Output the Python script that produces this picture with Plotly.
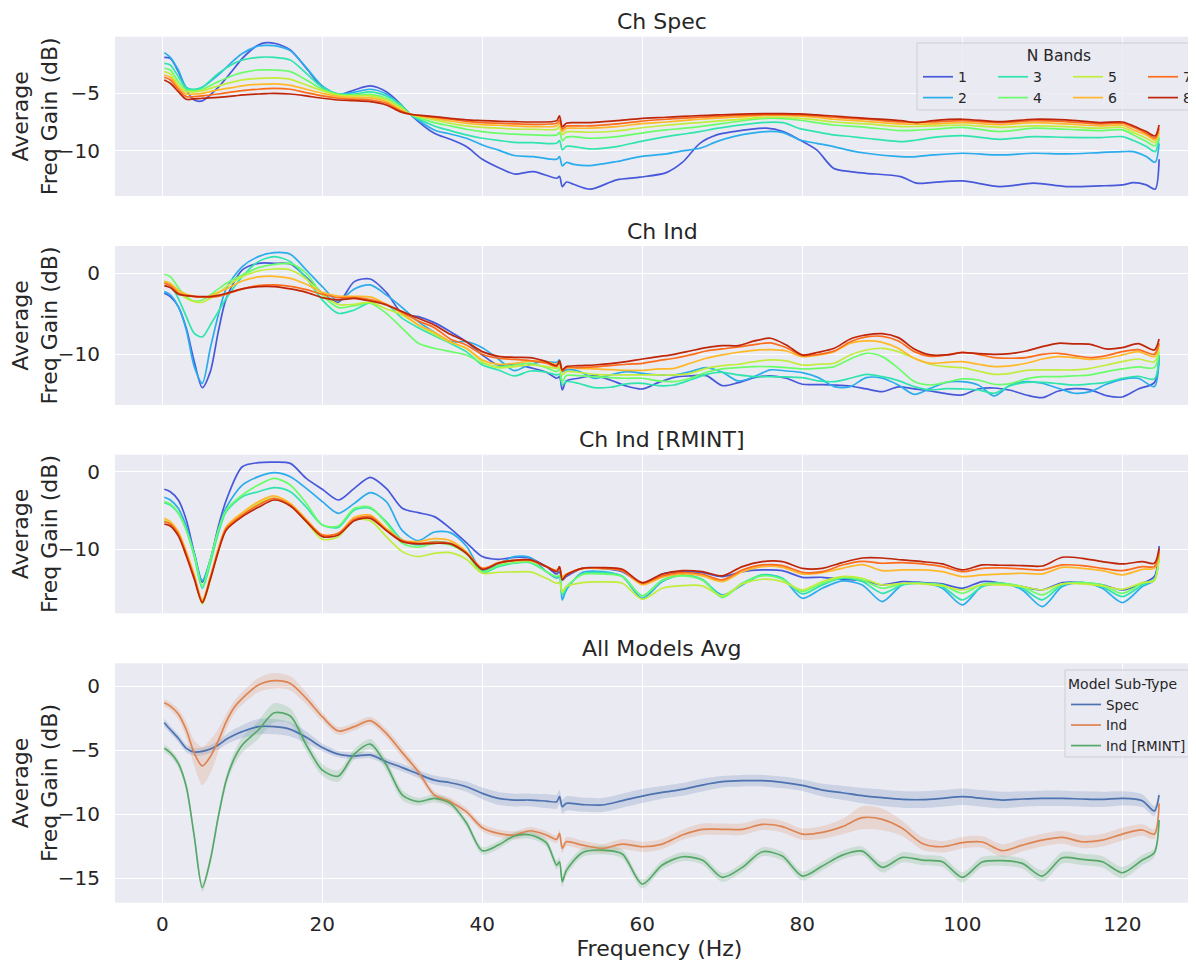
import plotly.graph_objects as go
from plotly.subplots import make_subplots

# ------------------------------------------------------------------
# Data
# ------------------------------------------------------------------
BAND_NAMES = ["1", "2", "3", "4", "5", "6", "7", "8"]
SUBTYPE_NAMES = ["Spec", "Ind", "Ind [RMINT]"]
PANEL_TITLES = ["Ch Spec", "Ch Ind", "Ch Ind [RMINT]", "All Models Avg"]
X_TICKS = [0, 20, 40, 60, 80, 100, 120]

# ---- Panel 1: Ch Spec ----
SPEC_FREQ = [0.25, 1, 2, 3, 4, 5, 7, 9, 10, 12, 13, 14, 16, 18, 20, 22, 24, 26, 28, 29.7,
             31, 34, 36, 38, 40, 42.2, 44, 46.4, 49.3, 49.65, 50.0, 50.5, 51.4, 53.5, 56.8, 59.7,
             63, 65, 67.2, 69.3, 71.4, 75.5, 77.6, 79.7, 81.8, 83.9, 86, 88, 92.3, 94.3, 96.4,
             100, 104.7, 108.9, 113, 117.2, 120, 121.4, 123, 124.1, 124.6]
SPEC_N1 = [-1.88, -1.97, -3.12, -4.71, -5.58, -5.66, -4.48, -2.83, -1.97, -0.81,
           -0.61, -0.66, -1.24, -2.83, -4.48, -5.14, -4.71, -4.36, -4.86, -5.87,
           -6.82, -8.47, -8.99, -9.62, -10.72, -11.50, -12.00, -11.79, -12.37, -12.20,
           -13.10, -12.70, -12.89, -13.32, -12.51, -12.28, -11.88, -11.00, -9.34, -8.61,
           -8.32, -8.03, -8.32, -9.05, -9.91, -11.50, -11.79, -11.94, -12.23, -12.80,
           -12.72, -12.60, -13.09, -12.80, -13.09, -13.03, -12.95, -12.75, -12.95, -13.32,
           -10.72]
SPEC_N2 = [-1.47, -1.88, -2.98, -4.48, -4.71, -4.48, -3.41, -2.11, -1.55, -0.90,
           -0.84, -0.87, -1.30, -2.77, -4.36, -5.06, -4.90, -4.65, -5.06, -6.01,
           -6.82, -8.18, -8.53, -8.90, -9.48, -9.97, -10.40, -10.49, -10.72, -10.50,
           -11.30, -11.00, -11.16, -11.27, -10.92, -10.49, -10.26, -10.00, -9.77, -9.19,
           -8.76, -8.32, -8.41, -9.05, -9.34, -9.62, -9.97, -10.20, -10.49, -10.49,
           -10.35, -10.20, -10.35, -10.20, -10.26, -10.14, -10.06, -10.06, -10.49, -10.98,
           -9.34]
SPEC_N3 = [-2.40, -2.54, -3.55, -4.57, -4.65, -4.48, -3.27, -2.40, -2.11, -1.88,
           -1.85, -1.88, -2.11, -3.27, -4.48, -5.06, -5.06, -4.88, -5.23, -5.92,
           -6.82, -7.83, -8.24, -8.61, -8.90, -9.10, -9.25, -9.28, -9.34, -9.10,
           -9.90, -9.60, -9.62, -9.83, -9.62, -9.19, -8.76, -8.55, -8.32, -8.05,
           -7.83, -7.52, -7.55, -8.06, -8.35, -8.61, -8.75, -8.90, -9.19, -9.05,
           -8.82, -8.67, -8.99, -8.76, -8.82, -8.84, -8.76, -9.10, -9.62, -10.06,
           -8.90]
SPEC_N4 = [-2.83, -2.98, -3.99, -4.71, -4.77, -4.65, -3.99, -3.41, -3.21, -2.98,
           -2.97, -2.98, -3.12, -3.84, -4.65, -5.09, -5.14, -5.09, -5.43, -6.10,
           -6.82, -7.54, -7.83, -8.12, -8.32, -8.47, -8.55, -8.61, -8.61, -8.40,
           -9.10, -8.80, -8.76, -8.90, -8.76, -8.47, -8.18, -8.05, -7.89, -7.70,
           -7.49, -7.17, -7.20, -7.34, -7.55, -7.75, -7.85, -7.95, -8.24, -8.20,
           -8.12, -7.95, -8.32, -8.03, -8.12, -8.24, -8.18, -8.61, -9.19, -9.57,
           -8.76]
SPEC_N5 = [-3.12, -3.32, -4.28, -4.86, -4.88, -4.77, -4.36, -3.99, -3.84, -3.70,
           -3.68, -3.67, -3.79, -4.28, -4.77, -5.17, -5.23, -5.23, -5.58, -6.21,
           -6.82, -7.31, -7.60, -7.83, -7.95, -8.03, -8.10, -8.12, -8.12, -7.90,
           -8.60, -8.35, -8.32, -8.38, -8.27, -8.01, -7.77, -7.65, -7.54, -7.42,
           -7.31, -7.08, -7.08, -7.17, -7.30, -7.49, -7.58, -7.66, -7.89, -7.87,
           -7.83, -7.75, -7.95, -7.83, -7.89, -8.03, -7.95, -8.41, -8.90, -9.28,
           -8.47]
SPEC_N6 = [-3.41, -3.61, -4.48, -5.06, -5.06, -5.00, -4.71, -4.48, -4.36, -4.22,
           -4.20, -4.19, -4.31, -4.65, -5.00, -5.29, -5.38, -5.40, -5.72, -6.39,
           -6.82, -7.17, -7.40, -7.60, -7.72, -7.77, -7.83, -7.89, -7.83, -7.60,
           -8.30, -8.05, -8.03, -8.03, -7.89, -7.66, -7.49, -7.37, -7.25, -7.15,
           -7.08, -6.91, -6.91, -6.99, -7.10, -7.25, -7.35, -7.43, -7.66, -7.68,
           -7.66, -7.54, -7.72, -7.54, -7.66, -7.83, -7.75, -8.18, -8.61, -9.05,
           -8.32]
SPEC_N7 = [-3.61, -3.84, -4.65, -5.29, -5.29, -5.23, -5.06, -4.86, -4.77, -4.65,
           -4.60, -4.57, -4.65, -4.94, -5.23, -5.43, -5.52, -5.58, -5.87, -6.50,
           -6.82, -7.08, -7.25, -7.43, -7.55, -7.60, -7.65, -7.69, -7.60, -7.35,
           -8.10, -7.85, -7.83, -7.83, -7.66, -7.43, -7.25, -7.15, -7.08, -7.00,
           -6.94, -6.85, -6.85, -6.88, -6.97, -7.08, -7.17, -7.25, -7.49, -7.52,
           -7.49, -7.37, -7.54, -7.37, -7.46, -7.66, -7.60, -7.95, -8.47, -8.90,
           -8.03]
SPEC_N8 = [-3.84, -4.13, -4.86, -5.52, -5.49, -5.43, -5.35, -5.23, -5.14, -5.06,
           -5.03, -5.00, -5.06, -5.23, -5.43, -5.58, -5.64, -5.72, -6.01, -6.59,
           -6.82, -7.02, -7.17, -7.31, -7.37, -7.43, -7.46, -7.49, -7.37, -6.95,
           -7.90, -7.60, -7.54, -7.54, -7.37, -7.20, -7.08, -7.00, -6.94, -6.88,
           -6.82, -6.76, -6.76, -6.79, -6.88, -6.97, -7.08, -7.17, -7.37, -7.54,
           -7.37, -7.25, -7.46, -7.25, -7.31, -7.54, -7.49, -7.83, -8.32, -8.70,
           -7.75]

# ---- Panel 2: Ch Ind ----
IND_FREQ = [0.25, 1, 2, 3, 4, 5, 6, 7, 8,
            10, 12, 14, 16, 18, 20, 22, 24, 26, 28, 30, 32, 34, 36, 38, 40, 42, 44, 46, 48,
            49.3, 49.65, 50, 50.5,
            52, 54, 56, 58, 60, 62, 64, 66, 68, 70, 72, 74, 76, 78, 80, 82, 84, 86, 88, 90,
            92, 94, 96, 98, 100, 102, 104, 106, 108, 110, 112, 114, 116, 118, 120, 122, 124,
            124.6]
IND_N1 = [-2.47, -2.88, -4.12, -6.79, -10.91, -14.12, -12.14, -7.20, -3.09,
          0.41, 1.23, 1.23, 1.15, -0.49, -2.47, -3.58, -1.03, -0.70, -2.35, -4.98, -5.35, -6.09,
          -7.20, -8.44, -10.08, -11.32, -11.19, -11.65, -12.22,
          -12.96, -12.76, -14.40, -13.29,
          -12.96, -12.63, -13.17, -13.91, -14.28, -13.50, -12.84, -12.67, -12.63, -13.87, -13.50,
          -12.88, -12.67, -12.96, -13.70, -13.74, -13.79, -13.91, -14.28, -14.61, -14.03, -14.28,
          -14.53, -14.86, -15.02, -14.28, -14.16, -14.44, -15.02, -15.35, -14.53, -14.24, -14.40,
          -15.10, -15.27, -14.28, -13.50,
          -10.08]
IND_N2 = [-2.26, -2.67, -4.12, -6.99, -11.52, -13.58, -9.26, -5.14, -1.85,
          0.82, 2.06, 2.55, 2.35, 0.41, -1.65, -3.42, -1.93, -1.44, -2.67, -4.24, -5.97, -7.28,
          -8.44, -8.44, -9.18, -10.58, -12.02, -11.23, -10.91,
          -10.99, -10.70, -12.14, -11.93,
          -12.06, -12.96, -12.55, -12.14, -12.35, -12.55, -12.55, -12.14, -11.65, -12.22, -13.29,
          -12.76, -11.93, -12.06, -12.26, -12.88, -13.99, -13.99, -12.88, -12.96, -13.79, -14.94,
          -14.20, -13.46, -13.37, -13.79, -15.14, -13.79, -13.37, -13.58, -14.20, -14.81, -14.61,
          -13.70, -13.09, -12.96, -13.99,
          -10.49]
IND_N3 = [-1.03, -1.44, -3.09, -5.35, -7.41, -7.85, -6.38, -4.73, -3.09,
          -0.41, 1.44, 2.06, 1.44, -0.62, -3.29, -4.94, -4.53, -3.58, -3.83, -5.56, -6.71, -7.70,
          -8.64, -9.67, -11.32, -11.93, -12.67, -12.06, -12.22,
          -12.55, -12.47, -13.79, -13.37,
          -13.58, -14.12, -14.07, -13.66, -13.58, -13.87, -13.79, -13.17, -12.47, -12.22, -12.55,
          -12.76, -12.76, -12.80, -12.88, -13.29, -13.37, -12.96, -12.47, -12.76, -13.25, -13.99,
          -14.40, -14.24, -14.28, -14.40, -14.81, -13.87, -13.46, -13.46, -13.62, -13.79, -13.66,
          -13.46, -12.96, -12.71, -13.04,
          -10.08]
IND_N4 = [-0.12, -0.41, -1.77, -2.88, -3.42, -3.29, -2.67, -1.93, -1.23,
          -0.21, 0.70, 1.11, 1.19, 0.00, -2.67, -4.24, -3.99, -3.70, -4.94, -6.79, -8.64, -9.26,
          -9.67, -10.08, -11.11, -11.52, -11.32, -11.11, -11.65,
          -12.14, -11.81, -13.37, -12.63,
          -12.63, -12.76, -12.88, -12.96, -12.96, -13.29, -13.37, -12.96, -12.22, -11.81, -11.65,
          -11.52, -11.52, -11.65, -11.81, -11.73, -11.52, -10.58, -9.88, -10.29, -11.73, -13.37,
          -13.79, -13.46, -13.04, -13.17, -13.70, -13.62, -13.04, -12.76, -12.76, -12.67, -12.55,
          -12.14, -11.81, -11.56, -11.65,
          -9.67]
IND_N5 = [-0.95, -1.23, -2.26, -3.09, -3.50, -3.58, -3.09, -2.47, -1.65,
          -0.41, 0.29, 0.53, 0.41, -0.70, -2.59, -3.83, -3.83, -3.58, -4.40, -5.14, -6.38, -7.53,
          -8.52, -9.26, -10.91, -11.65, -11.52, -11.32, -11.52,
          -11.73, -11.52, -12.55, -12.14,
          -12.22, -12.47, -12.55, -12.55, -12.55, -12.55, -12.55, -12.35, -11.73, -11.40, -11.23,
          -10.91, -10.70, -10.82, -11.32, -11.23, -11.11, -10.08, -9.47, -9.26, -9.67, -10.49,
          -11.23, -11.52, -11.65, -12.06, -12.47, -12.35, -11.98, -11.93, -11.93, -11.93, -11.73,
          -11.32, -10.91, -10.58, -10.91,
          -9.26]
IND_N6 = [-1.03, -1.28, -2.10, -2.59, -2.84, -2.92, -2.80, -2.35, -1.93,
          -0.95, -0.45, -0.37, -0.62, -1.36, -2.35, -2.80, -2.84, -2.92, -3.83, -4.98, -6.38, -7.28,
          -8.44, -9.26, -10.70, -11.23, -11.11, -10.82, -10.91,
          -11.23, -10.91, -11.93, -11.65,
          -11.73, -11.81, -11.89, -11.98, -11.98, -11.81, -11.73, -11.11, -10.49, -10.08, -9.75,
          -9.51, -9.42, -9.59, -10.29, -10.08, -9.67, -8.64, -8.35, -8.52, -9.26, -10.49,
          -11.11, -10.99, -10.91, -11.23, -11.52, -11.44, -11.11, -10.58, -10.29, -10.41, -10.62,
          -10.49, -10.08, -9.67, -10.29,
          -8.85]
IND_N7 = [-1.23, -1.52, -2.43, -2.76, -2.88, -2.96, -2.96, -2.84, -2.59,
          -1.93, -1.52, -1.44, -1.61, -2.02, -2.59, -3.00, -3.00, -3.25, -3.83, -4.82, -5.88, -6.71,
          -8.11, -8.85, -10.00, -10.49, -10.62, -10.78, -11.11,
          -11.52, -10.99, -12.06, -11.65,
          -11.65, -11.56, -11.40, -11.23, -11.11, -10.78, -10.49, -10.08, -9.59, -9.34, -9.10,
          -8.80, -8.60, -9.20, -10.16, -10.00, -9.59, -8.44, -7.86, -7.78, -8.35, -9.67,
          -10.25, -10.08, -9.75, -10.00, -10.41, -10.49, -10.41, -10.00, -9.88, -10.16, -10.41,
          -10.16, -9.67, -9.42, -10.00,
          -8.64]
IND_N8 = [-1.52, -1.77, -2.59, -2.76, -2.84, -2.88, -2.88, -2.72, -2.47,
          -1.93, -1.65, -1.65, -1.93, -2.35, -3.00, -3.29, -3.09, -3.42, -3.91, -4.73, -5.56, -6.38,
          -7.53, -8.44, -9.67, -10.25, -10.37, -10.41, -10.91,
          -11.40, -10.82, -11.93, -11.52,
          -11.40, -11.32, -11.15, -10.91, -10.58, -10.29, -10.00, -9.59, -9.18, -8.93, -8.93,
          -8.35, -8.02, -8.85, -10.08, -9.75, -9.26, -8.11, -7.61, -7.45, -7.94, -9.34,
          -10.08, -10.08, -9.79, -9.92, -10.00, -9.92, -9.59, -9.05, -8.64, -8.72, -8.77,
          -9.34, -9.18, -8.68, -9.47,
          -8.11]

# ---- Panel 3: Ch Ind [RMINT] ----
RMINT_FREQ = [0.25, 1, 2, 3, 4, 5, 6, 7, 8,
              10, 12, 14, 16, 18, 20, 22, 24, 26, 28, 30, 32, 34, 36, 38, 40, 42, 44, 46, 48,
              49.3, 49.65, 50, 50.5,
              52.5, 55, 57.5, 60, 62.5, 65, 67.5, 70, 72.5, 75, 77.5, 80, 82.5, 85, 87.5, 90,
              92.5, 95, 97.5, 100, 102.5, 105, 107.5, 110, 112.5, 115, 117.5, 120, 122.5,
              124, 124.6]
RMINT_N1 = [-2.27, -2.58, -3.65, -6.22, -10.52, -14.25, -11.37, -7.08, -3.65,
            0.64, 1.16, 1.24, 1.07, -0.86, -2.27, -3.65, -2.15, -0.73, -2.15, -4.72, -5.28, -5.79,
            -7.30, -9.14, -10.94, -11.29, -11.03, -11.16, -12.23,
            -13.18, -12.88, -13.95, -13.52,
            -12.45, -12.45, -12.88, -14.38, -13.18, -12.88, -13.00, -13.52, -12.88, -12.66, -12.75,
            -13.61, -13.61, -13.86, -14.03, -14.59, -14.16, -14.29, -14.46, -15.02, -14.16, -14.38,
            -14.81, -15.24, -14.29, -14.29, -14.59, -15.24, -14.38,
            -13.52, -9.57]
RMINT_N2 = [-3.30, -3.65, -4.72, -7.08, -10.52, -14.03, -11.37, -7.51, -4.59,
            -1.72, -0.64, -0.13, -0.64, -2.15, -3.86, -5.36, -4.08, -2.70, -3.86, -7.60, -8.88, -7.77,
            -7.85, -9.57, -12.75, -11.89, -10.94, -11.07, -12.88,
            -13.73, -13.52, -16.52, -15.24,
            -13.00, -12.88, -13.52, -16.31, -14.16, -13.30, -13.95, -15.88, -14.59, -13.30, -13.73,
            -16.31, -15.02, -14.08, -14.59, -16.74, -14.59, -14.38, -15.02, -17.17, -14.72, -14.38,
            -15.24, -17.38, -14.81, -14.29, -15.02, -16.87, -14.81,
            -13.95, -10.52]
RMINT_N3 = [-3.99, -4.29, -5.36, -7.51, -10.94, -15.02, -11.80, -7.94, -5.15,
            -3.22, -2.58, -2.06, -2.58, -4.58, -6.87, -7.17, -4.94, -4.72, -6.44, -8.80, -9.44, -9.01,
            -9.23, -10.43, -12.99, -12.23, -11.80, -11.72, -12.88,
            -13.61, -13.43, -15.88, -15.02,
            -13.18, -13.00, -13.43, -16.01, -13.95, -13.30, -13.86, -16.09, -14.38, -13.30, -13.73,
            -15.75, -14.59, -13.73, -14.16, -15.67, -14.59, -14.38, -14.81, -16.52, -14.81, -14.46,
            -15.02, -16.52, -14.59, -14.29, -14.81, -16.09, -14.59,
            -13.86, -10.73]
RMINT_N4 = [-3.86, -4.16, -5.28, -7.51, -10.73, -14.72, -11.37, -7.51, -4.94,
            -3.00, -1.72, -0.86, -1.72, -4.08, -6.87, -6.99, -4.72, -4.58, -6.65, -9.23, -9.74, -9.23,
            -9.44, -10.60, -12.88, -12.10, -11.72, -11.63, -12.88,
            -13.52, -13.35, -15.67, -14.81,
            -13.26, -13.18, -13.52, -16.01, -14.03, -13.43, -13.95, -16.22, -14.38, -13.43, -13.86,
            -15.45, -14.38, -13.61, -13.95, -15.02, -14.46, -14.38, -14.59, -15.67, -14.51, -14.38,
            -14.81, -15.88, -14.46, -14.29, -14.59, -15.67, -14.38,
            -13.95, -10.94]
RMINT_N5 = [-6.22, -6.65, -7.94, -10.52, -13.52, -17.04, -13.95, -10.09, -7.30,
            -5.58, -4.08, -3.43, -4.29, -6.44, -8.71, -8.37, -6.22, -6.31, -8.37, -10.30, -10.94, -10.52,
            -10.43, -11.29, -13.09, -12.96, -12.92, -12.92, -13.73,
            -14.38, -14.29, -15.45, -14.81,
            -14.29, -14.21, -14.38, -16.44, -15.02, -14.68, -14.72, -16.01, -14.46, -13.86, -14.16,
            -15.24, -14.16, -13.52, -13.73, -14.59, -14.38, -14.46, -14.72, -15.24, -14.59, -14.59,
            -14.81, -15.24, -14.46, -14.46, -14.72, -15.15, -14.29,
            -14.03, -10.52]
RMINT_N6 = [-6.01, -6.44, -7.73, -10.30, -13.30, -16.52, -13.52, -9.87, -7.08,
            -5.28, -3.86, -3.13, -4.08, -6.14, -8.15, -7.94, -5.88, -5.58, -7.30, -8.80, -9.01, -8.63,
            -8.88, -10.30, -12.45, -11.80, -11.50, -11.46, -12.23,
            -12.75, -12.45, -13.52, -13.18,
            -12.49, -12.49, -12.75, -14.55, -13.61, -13.18, -13.43, -14.16, -12.88, -12.23, -12.32,
            -13.18, -13.00, -12.45, -11.97, -12.75, -12.66, -12.66, -12.88, -13.52, -13.30, -13.18,
            -13.09, -13.18, -12.32, -12.45, -12.75, -13.30, -12.58,
            -12.45, -10.52]
RMINT_N7 = [-6.44, -6.74, -8.03, -10.60, -13.61, -16.74, -13.73, -10.17, -7.30,
            -5.58, -4.29, -3.43, -4.29, -6.31, -8.15, -7.94, -6.14, -5.79, -7.51, -8.88, -9.23, -9.06,
            -9.23, -10.43, -12.45, -11.72, -11.42, -11.37, -12.23,
            -12.75, -12.32, -13.86, -13.30,
            -12.45, -12.45, -12.75, -14.38, -13.43, -13.00, -13.22, -13.95, -12.66, -12.02, -12.10,
            -12.96, -12.88, -12.02, -11.55, -11.80, -11.72, -11.89, -12.23, -12.88, -12.45, -12.40,
            -12.53, -12.66, -12.02, -12.10, -12.45, -12.75, -12.23,
            -12.23, -10.30]
RMINT_N8 = [-6.74, -7.00, -8.28, -10.86, -13.86, -16.87, -13.86, -10.30, -7.51,
            -5.79, -4.59, -3.65, -4.42, -6.44, -8.37, -8.15, -6.31, -6.01, -7.60, -9.01, -9.31, -9.23,
            -9.31, -10.52, -12.58, -11.80, -11.42, -11.37, -12.23,
            -12.88, -12.23, -13.95, -13.30,
            -12.45, -12.36, -12.58, -14.29, -13.18, -12.75, -12.88, -13.43, -12.23, -11.59, -11.59,
            -12.45, -12.45, -11.72, -11.12, -11.12, -11.37, -11.59, -11.89, -12.66, -12.02, -12.06,
            -12.10, -12.15, -11.03, -11.16, -11.59, -11.89, -11.59,
            -11.80, -9.87]

# ---- Panel 4: All Models Avg (mean and half-width of the shaded band) ----
AVG_FREQ = [0.25, 1, 2, 3, 4, 5, 6, 7, 8, 9, 10,
            12, 14, 16, 18, 20, 22, 24, 26, 28, 30, 32, 34, 36, 38, 40, 42, 44, 46, 48,
            49.3, 49.65, 50, 50.5,
            52.5, 55, 57.5, 60, 62.5, 65, 67.5, 70, 72.5, 75, 77.5, 80, 82.5, 85, 87.5, 90,
            92.5, 95, 97.5, 100, 102.5, 105, 107.5, 110, 112.5, 115, 117.5, 120, 122.5,
            124, 124.6]
AVG_SPEC = [-2.84, -3.37, -4.06, -4.84, -5.13, -5.08, -4.90, -4.58, -4.14, -3.80, -3.54,
            -3.15, -3.15, -3.36, -3.98, -4.77, -5.29, -5.44, -5.36, -5.89, -6.35, -6.85, -7.32,
            -7.53, -7.84, -8.36, -8.75, -8.88, -8.88, -8.96,
            -9.01, -8.62, -9.40, -9.14,
            -9.24, -9.27, -8.93, -8.57, -8.28, -8.05, -7.71, -7.45, -7.37, -7.37, -7.50, -7.73,
            -8.10, -8.31, -8.54, -8.70, -8.83, -8.85, -8.75, -8.62, -8.75, -8.88, -8.80, -8.75,
            -8.75, -8.80, -8.83, -8.75, -8.93,
            -9.74, -8.49]
AVG_SPEC_CI = [0.3, 0.3, 0.3, 0.3, 0.3, 0.3, 0.3, 0.35, 0.4, 0.45, 0.5,
               0.6, 0.6, 0.55, 0.45, 0.3, 0.25, 0.25, 0.25, 0.25, 0.3, 0.3, 0.35, 0.35, 0.4,
               0.45, 0.5, 0.5, 0.5, 0.55,
               0.55, 0.55, 0.55, 0.55,
               0.55, 0.55, 0.55, 0.55, 0.5, 0.5, 0.5, 0.45, 0.45, 0.45, 0.45, 0.45, 0.5, 0.55,
               0.6, 0.65, 0.65, 0.65, 0.65, 0.65, 0.65, 0.65, 0.6, 0.6, 0.6, 0.6, 0.6, 0.55, 0.5,
               0.4, 0.35]
AVG_IND = [-1.28, -1.54, -2.16, -3.41, -5.23, -6.22, -5.49, -4.24, -2.76, -1.64, -0.94,
           0.10, 0.44, 0.23, -0.94, -2.37, -3.49, -3.15, -2.68, -3.67, -5.18, -6.67, -8.49,
           -9.01, -9.79, -11.04, -11.48, -11.61, -11.28, -11.61,
           -11.95, -11.48, -12.66, -12.14,
           -12.40, -12.66, -12.32, -12.53, -12.32, -11.61, -11.17, -11.17, -11.17, -10.78, -10.96,
           -11.54, -11.41, -10.96, -10.26, -10.39, -11.09, -12.27, -12.53, -12.21, -12.16, -12.84,
           -12.40, -12.01, -11.80, -12.14, -12.01, -11.54, -11.22,
           -11.54, -9.14]
AVG_IND_CI = [0.3, 0.3, 0.4, 0.6, 1.0, 1.5, 1.3, 0.9, 0.6, 0.5, 0.5,
              0.55, 0.6, 0.55, 0.45, 0.35, 0.3, 0.3, 0.3, 0.35, 0.4, 0.35, 0.3, 0.3, 0.3,
              0.3, 0.3, 0.3, 0.3, 0.3,
              0.3, 0.3, 0.35, 0.35,
              0.35, 0.35, 0.4, 0.4, 0.4, 0.4, 0.45, 0.45, 0.45, 0.45, 0.45, 0.45, 0.5, 0.6,
              0.9, 0.85, 0.6, 0.5, 0.45, 0.45, 0.45, 0.5, 0.5, 0.5, 0.5, 0.5, 0.5, 0.5, 0.45,
              0.4, 0.35]
AVG_RMINT = [-4.84, -5.18, -6.02, -7.84, -11.74, -15.70, -13.57, -10.18, -7.32, -5.63, -4.58,
             -3.41, -2.06, -2.32, -4.58, -6.54, -7.01, -5.29, -4.51, -6.15, -8.49, -9.01, -8.75,
             -9.14, -10.65, -12.84, -12.40, -11.69, -11.61, -12.21,
             -13.96, -13.70, -15.26, -14.40,
             -12.99, -12.79, -13.10, -15.44, -13.96, -13.31, -13.57, -14.92, -14.14, -12.92, -13.26,
             -14.82, -14.04, -13.18, -12.87, -14.14, -13.36, -13.57, -13.70, -14.92, -13.72, -13.62,
             -13.83, -14.82, -13.39, -13.52, -13.70, -14.56, -13.57,
             -13.00, -10.44]
AVG_RMINT_CI = [0.3, 0.3, 0.3, 0.3, 0.35, 0.35, 0.35, 0.35, 0.4, 0.5, 0.6,
                0.7, 0.75, 0.6, 0.5, 0.45, 0.45, 0.4, 0.4, 0.45, 0.4, 0.3, 0.3, 0.3, 0.3,
                0.3, 0.3, 0.3, 0.3, 0.3,
                0.35, 0.35, 0.4, 0.4,
                0.35, 0.35, 0.35, 0.35, 0.35, 0.35, 0.35, 0.35, 0.35, 0.35, 0.35, 0.35, 0.35,
                0.35, 0.35, 0.4, 0.4, 0.4, 0.4, 0.4, 0.4, 0.4, 0.4, 0.45, 0.45, 0.45, 0.45,
                0.45, 0.4,
                0.35, 0.3]

SPEC_LINES = [SPEC_N1, SPEC_N2, SPEC_N3, SPEC_N4, SPEC_N5, SPEC_N6, SPEC_N7, SPEC_N8]
IND_LINES = [IND_N1, IND_N2, IND_N3, IND_N4, IND_N5, IND_N6, IND_N7, IND_N8]
RMINT_LINES = [RMINT_N1, RMINT_N2, RMINT_N3, RMINT_N4, RMINT_N5, RMINT_N6, RMINT_N7, RMINT_N8]
AVG_MEANS = [AVG_SPEC, AVG_IND, AVG_RMINT]
AVG_CIS = [AVG_SPEC_CI, AVG_IND_CI, AVG_RMINT_CI]

for freq, lines in [(SPEC_FREQ, SPEC_LINES), (IND_FREQ, IND_LINES), (RMINT_FREQ, RMINT_LINES),
                    (AVG_FREQ, AVG_MEANS), (AVG_FREQ, AVG_CIS)]:
    for ln in lines:
        assert len(ln) == len(freq), (len(ln), len(freq))

# ------------------------------------------------------------------
# Styling / layout
# ------------------------------------------------------------------
BAND_COLORS = ["#4759DA", "#2AACED", "#2FE5AD", "#6BFD69",
               "#C1ED3D", "#FFB827", "#FD6C1A", "#BE2509"]
SUB_COLORS = ["#4C72B0", "#DD8452", "#55A868"]
SUB_FILLS = ["rgba(76,114,176,0.2)", "rgba(221,132,82,0.2)", "rgba(85,168,104,0.2)"]
TXT = "#262626"
FONT = "DejaVu Sans"

# The page places the figure 8 px in from the top-left corner of the window.
OFF = 8
FIG_W, FIG_H = 1196, 960
ML = 115 - OFF            # plot-area left edge at window x = 115
MT = 36 - OFF             # top of paper area at window y = 36
MB = FIG_H - (903 - OFF)  # bottom of paper area at window y = 903
MR = 0
PW = FIG_W - ML - MR
PH = FIG_H - MT - MB


def fx(px):
    """window x (px) -> paper fraction"""
    return (px - OFF - ML) / PW


def fy(py):
    """window y (px) -> paper fraction"""
    return (FIG_H - MB - (py - OFF)) / PH


PANEL_TOP = [36.7, 246.0, 454.7, 663.3]
PANEL_BOT = [196.0, 405.0, 613.3, 902.7]
Y_RANGES = [[-13.91, -0.09], [-16.26, 3.37], [-18.25, 2.19], [-16.90, 1.80]]
Y_TICKS = [[-10, -5], [-10, 0], [-10, 0], [-15, -10, -5, 0]]
# x = 0 sits at window x 162.3 and one Hz spans 8 px
X_RANGE = [(115 - 162.3) / 8.0, (FIG_W + OFF - MR - 162.3) / 8.0]

fig = make_subplots(rows=4, cols=1, shared_xaxes=True)

panel_data = [(SPEC_FREQ, SPEC_LINES), (IND_FREQ, IND_LINES), (RMINT_FREQ, RMINT_LINES)]
for p, (freq, lines) in enumerate(panel_data):
    for i, (name, vals) in enumerate(zip(BAND_NAMES, lines)):
        show = p == 0
        fig.add_trace(go.Scatter(
            x=freq, y=vals, mode="lines", name=name,
            line=dict(color=BAND_COLORS[i], width=1.7, shape="spline", smoothing=0.8),
            showlegend=show,
            legend="legend" if i % 2 == 0 else "legend2",
            legendwidth=12 if i >= 6 else None,
            hoverinfo="skip",
        ), row=p + 1, col=1)

# bands first, then mean lines
for k in range(3):
    lo = [m - c for m, c in zip(AVG_MEANS[k], AVG_CIS[k])]
    hi = [m + c for m, c in zip(AVG_MEANS[k], AVG_CIS[k])]
    fig.add_trace(go.Scatter(x=AVG_FREQ, y=lo, mode="lines", legend="legend3",
                             line=dict(width=0, shape="spline", smoothing=0.8, color=SUB_COLORS[k]),
                             showlegend=False, hoverinfo="skip"), row=4, col=1)
    fig.add_trace(go.Scatter(x=AVG_FREQ, y=hi, mode="lines", fill="tonexty", legend="legend3",
                             fillcolor=SUB_FILLS[k],
                             line=dict(width=0, shape="spline", smoothing=0.8, color=SUB_COLORS[k]),
                             showlegend=False, hoverinfo="skip"), row=4, col=1)
for k in range(3):
    fig.add_trace(go.Scatter(x=AVG_FREQ, y=AVG_MEANS[k], mode="lines", name=SUBTYPE_NAMES[k],
                             line=dict(color=SUB_COLORS[k], width=1.7, shape="spline", smoothing=0.8),
                             legend="legend3", hoverinfo="skip"), row=4, col=1)

for r in range(4):
    xa = "xaxis" if r == 0 else "xaxis%d" % (r + 1)
    ya = "yaxis" if r == 0 else "yaxis%d" % (r + 1)
    fig.layout[ya].update(
        domain=[fy(PANEL_BOT[r]), fy(PANEL_TOP[r])],
        range=Y_RANGES[r], tickvals=Y_TICKS[r],
        ticktext=[("\u2212%d" % -v) if v < 0 else "%d" % v for v in Y_TICKS[r]],
        showgrid=True, gridcolor="white", gridwidth=1.3, zeroline=False, showline=False,
        ticks="outside", ticklen=10, tickcolor="rgba(0,0,0,0)",
        tickfont=dict(size=20, color=TXT, family=FONT),
        title=dict(text="Average<br>Freq Gain (dB)", font=dict(size=22, color=TXT, family=FONT),
                   standoff=2),
    )
    fig.layout[xa].update(
        range=X_RANGE, tickvals=X_TICKS, ticktext=[str(v) for v in X_TICKS],
        showgrid=True, gridcolor="white", gridwidth=1.3, zeroline=False, showline=False,
        ticks="outside", ticklen=3, tickcolor="rgba(0,0,0,0)",
        tickfont=dict(size=20, color=TXT, family=FONT),
        showticklabels=(r == 3),
    )
fig.layout["xaxis4"].title = dict(text="Frequency (Hz)", font=dict(size=22, color=TXT, family=FONT),
                                  standoff=1)

annotations = []
for r in range(4):
    annotations.append(dict(
        text=PANEL_TITLES[r], xref="paper", yref="paper", x=fx(662), y=fy(PANEL_TOP[r] - 15),
        xanchor="center", yanchor="middle", showarrow=False,
        font=dict(size=22, color=TXT, family=FONT)))

shapes = [
    dict(type="rect", xref="paper", yref="paper", x0=fx(917), x1=fx(1215), y0=fy(110), y1=fy(43),
         line=dict(color="#CDCDD3", width=1), fillcolor="rgba(234,234,242,0.8)", layer="above"),
    dict(type="rect", xref="paper", yref="paper", x0=fx(1065), x1=fx(1215), y0=fy(757), y1=fy(670),
         line=dict(color="#CDCDD3", width=1), fillcolor="rgba(234,234,242,0.8)", layer="above"),
]

fig.update_layout(
    width=FIG_W, height=FIG_H,
    margin=dict(l=ML, r=MR, t=MT, b=MB, autoexpand=False),
    paper_bgcolor="white", plot_bgcolor="#EAEAF2",
    font=dict(family=FONT, color=TXT),
    annotations=annotations, shapes=shapes,
    legend=dict(
        title=dict(text="N Bands", side="top center", font=dict(size=15.5, color=TXT, family=FONT)),
        orientation="h", x=fx(918), y=fy(41), xanchor="left", yanchor="top",
        traceorder="normal",
        bgcolor="rgba(0,0,0,0)", borderwidth=0, entrywidth=30, entrywidthmode="pixels",
        font=dict(size=14, color=TXT, family=FONT)),
    legend2=dict(
        orientation="h", x=fx(918), y=fy(82), xanchor="left", yanchor="top",
        traceorder="normal",
        bgcolor="rgba(0,0,0,0)", borderwidth=0, entrywidth=30, entrywidthmode="pixels",
        font=dict(size=14, color=TXT, family=FONT)),
    legend3=dict(
        title=dict(text="Model Sub-Type", side="top", font=dict(size=14, color=TXT, family=FONT)),
        x=fx(1066), y=fy(671), xanchor="left", yanchor="top",
        traceorder="normal",
        bgcolor="rgba(0,0,0,0)", borderwidth=0,
        font=dict(size=13.5, color=TXT, family=FONT)),
)

fig.write_html("out.html")
